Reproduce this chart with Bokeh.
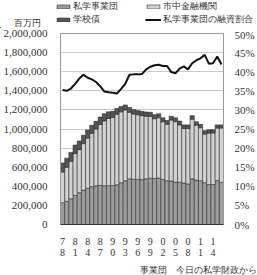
from bokeh.plotting import figure
from bokeh.layouts import column
from bokeh.models import (Range1d, LinearAxis, FixedTicker, Legend, LegendItem,
                          Label, NumeralTickFormatter)
from bokeh.embed import file_html
from bokeh.resources import INLINE

years = list(range(1978, 2017))
jigyodan = [228, 243, 269, 305, 333, 360, 380, 396, 405, 408, 406, 407, 408, 415,
            438, 458, 478, 474, 472, 470, 478, 485, 482, 487, 472, 458, 455, 445,
            442, 434, 425, 478, 466, 458, 438, 418, 418, 460, 440]
shichu = [322, 357, 394, 437, 452, 487, 525, 559, 595, 639, 679, 703, 712, 740,
          742, 742, 697, 683, 677, 670, 656, 647, 626, 631, 604, 591, 639, 632,
          601, 571, 580, 625, 574, 555, 509, 540, 540, 550, 570]
gakkosai = [95, 95, 92, 90, 90, 88, 85, 85, 80, 78, 75, 70, 65, 60, 55, 52, 50,
            48, 46, 45, 44, 43, 42, 42, 41, 40, 40, 40, 40, 38, 38, 37, 36, 36,
            35, 34, 34, 33, 33]
ratio = [35.2, 35.0, 35.6, 36.8, 38.2, 39.2, 38.4, 38.0, 37.3, 36.2, 34.8, 34.6,
         34.5, 34.3, 35.5, 36.8, 39.2, 39.3, 39.3, 39.4, 40.6, 41.3, 41.7, 41.8,
         41.5, 41.5, 39.9, 39.6, 40.8, 41.4, 40.6, 42.2, 43.0, 43.5, 44.4, 42.1,
         42.2, 44.0, 41.9]
tick_years = [1978, 1981, 1984, 1987, 1990, 1993, 1996, 1999, 2002, 2005, 2008, 2011, 2014]
tick_labels = ["7\n8", "8\n1", "8\n4", "8\n7", "9\n0", "9\n3", "9\n6", "9\n9",
               "0\n2", "0\n5", "0\n8", "1\n1", "1\n4"]

names = ["私学事業団", "市中金融機関", "学校債", "私学事業団の融資割合"]
unit_text = "百万円"
source_text = "事業団　今日の私学財政から"
colors = ["#9c9c9c", "#d2d2d2", "#555555"]

FONT = "Liberation Serif"
TXT = "#333333"
W = 257


def blank(h):
    f = figure(width=W, height=h, output_backend="svg", toolbar_location=None,
               x_range=Range1d(0, W), y_range=Range1d(0, h),
               x_axis_location=None, y_axis_location=None,
               min_border=0, outline_line_color=None)
    f.grid.visible = False
    return f


def make_legend(items, x, y):
    return Legend(items=items, location=(x, y), padding=0, margin=0, spacing=0,
                  label_standoff=2, glyph_width=16, glyph_height=5,
                  label_height=8, label_text_font=FONT,
                  label_text_font_size="9px", label_text_color=TXT,
                  label_text_line_height=1.0,
                  background_fill_alpha=0, border_line_color=None)


# ---- top strip: legend + unit ----
top = blank(28)
off = [-100]
d0 = top.vbar(x=off, top=[1], width=1, fill_color=colors[0], line_color="#333333", line_width=0.6)
d1 = top.vbar(x=off, top=[1], width=1, fill_color=colors[1], line_color="#333333", line_width=0.6)
d2 = top.vbar(x=off, top=[1], width=1, fill_color=colors[2], line_color="#333333", line_width=0.6)
d3 = top.line(x=[-100, -99], y=[1, 1], line_color="#111111", line_width=2)
top.add_layout(make_legend([LegendItem(label=names[0], renderers=[d0]),
                            LegendItem(label=names[2], renderers=[d2])], 55, 2), "center")
top.add_layout(make_legend([LegendItem(label=names[1], renderers=[d1]),
                            LegendItem(label=names[3], renderers=[d3])], 145, 2), "center")
top.add_layout(Label(x=13, y=6, text=unit_text, text_font=FONT,
                     text_font_size="9px", text_color=TXT,
                     text_baseline="middle"))

# ---- main chart ----
data = dict(year=years,
            a=[v * 1000 for v in jigyodan],
            b=[v * 1000 for v in shichu],
            c=[v * 1000 for v in gakkosai],
            r=ratio)

p = figure(width=W, height=232, output_backend="svg", toolbar_location=None,
           x_range=Range1d(1977.5, 2016.5), y_range=Range1d(0, 2000000),
           min_border_left=55, min_border_right=31, min_border_top=5,
           min_border_bottom=30)
p.extra_y_ranges = {"pct": Range1d(0, 50)}

rs = p.vbar_stack(["a", "b", "c"], x="year", width=1.0, source=data,
                  fill_color=colors, line_color="#333333", line_width=0.6)
ln = p.line("year", "r", source=data, y_range_name="pct", line_color="#111111",
            line_width=2)

p.outline_line_color = "#999999"
p.xgrid.visible = False
p.ygrid.grid_line_color = "#bbbbbb"
p.ygrid.grid_line_width = 0.8
p.ygrid.ticker = FixedTicker(ticks=list(range(0, 2000001, 200000)))

yl = p.yaxis[0]
yl.ticker = FixedTicker(ticks=list(range(0, 2000001, 200000)))
yl.formatter = NumeralTickFormatter(format="0,0")
yl.major_tick_line_color = None
yl.minor_tick_line_color = None
yl.axis_line_color = "#999999"
yl.major_label_standoff = 7
yl.major_label_text_font = FONT
yl.major_label_text_font_size = "11px"
yl.major_label_text_color = TXT

yr = LinearAxis(y_range_name="pct")
yr.ticker = FixedTicker(ticks=list(range(0, 51, 5)))
yr.major_label_overrides = {t: f"{t}%" for t in range(0, 51, 5)}
yr.major_tick_line_color = None
yr.minor_tick_line_color = None
yr.axis_line_color = "#999999"
yr.major_label_standoff = 5
yr.major_label_text_font = FONT
yr.major_label_text_font_size = "11px"
yr.major_label_text_color = TXT
p.add_layout(yr, "right")

xa = p.xaxis[0]
xa.ticker = FixedTicker(ticks=tick_years)
xa.major_label_overrides = dict(zip(tick_years, tick_labels))
xa.major_tick_line_color = None
xa.minor_tick_line_color = None
xa.axis_line_color = "#333333"
xa.major_label_standoff = 5
xa.major_label_text_font = FONT
xa.major_label_text_font_size = "10px"
xa.major_label_text_color = TXT
xa.major_label_text_line_height = 1.0

# ---- bottom strip: source ----
bot = blank(15)
bot.add_layout(Label(x=256, y=6, text=source_text, text_align="right",
                     text_baseline="middle", text_font=FONT,
                     text_font_size="8.5px", text_color=TXT))

layout = column(column(top), p, column(bot), spacing=0)
open("out.html", "w").write(file_html(layout, INLINE))
